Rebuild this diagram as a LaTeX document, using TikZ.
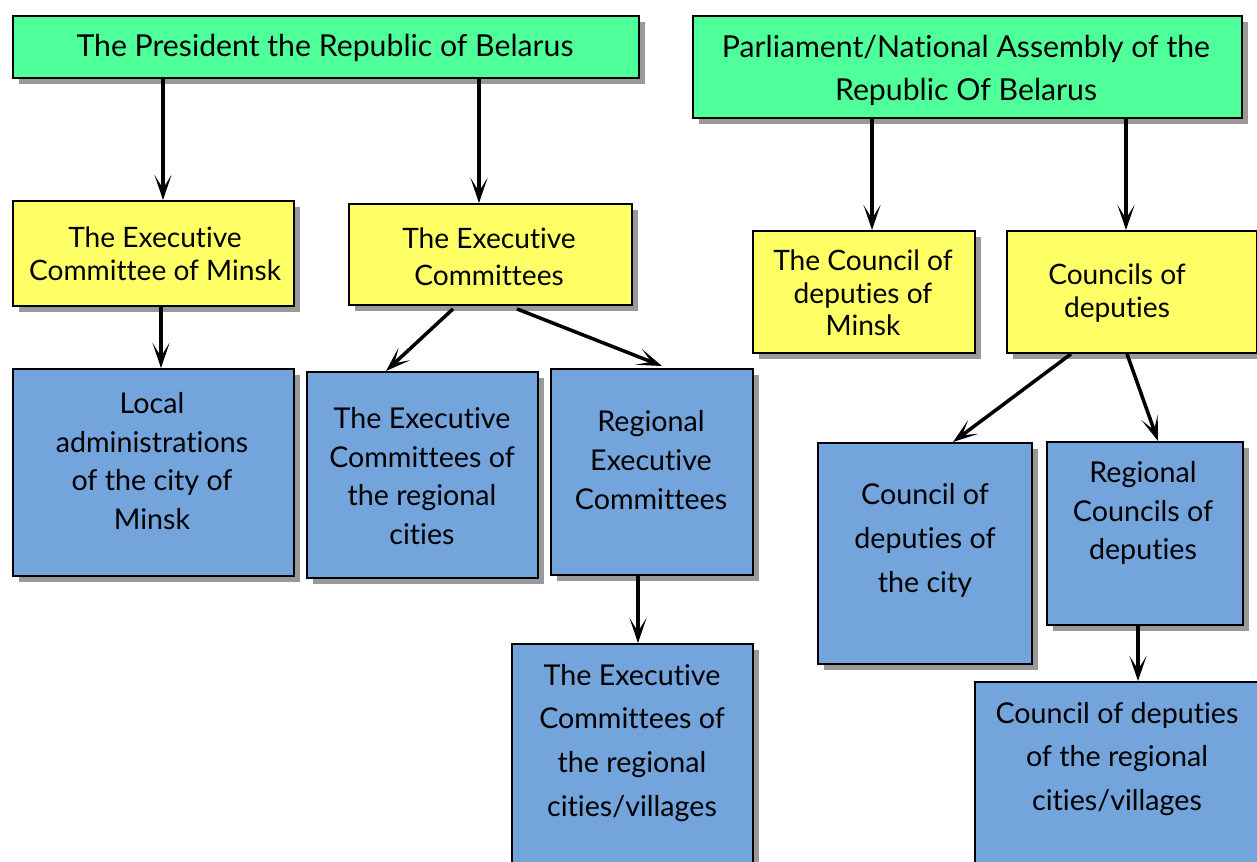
\documentclass[tikz,border=0pt]{standalone}
\usepackage{fontspec}
\setmainfont[Ligatures=NoCommon]{Lato}
\usetikzlibrary{arrows.meta,shadows,calc}
\definecolor{topgreen}{HTML}{4FFF99}
\definecolor{midyellow}{HTML}{FFFF66}
\definecolor{lowblue}{HTML}{73A4DB}
\begin{document}
\begin{tikzpicture}[x=0.2mm,y=-0.2mm,
  boxbase/.style={draw=black, line width=1.1pt, anchor=north west, inner sep=0pt,
    drop shadow={shadow xshift=1.2mm, shadow yshift=-1.2mm, opacity=1, fill=black!40}},
  greenbox/.style={boxbase, fill=topgreen},
  yellowbox/.style={boxbase, fill=midyellow},
  bluebox/.style={boxbase, fill=lowblue},
  toplbl/.style={align=center, inner sep=0pt, font=\fontsize{17.2}{#1}\selectfont},
  toplbl/.default=24.5,
  midlbl/.style={align=center, inner sep=0pt, font=\fontsize{16}{#1}\selectfont},
  midlbl/.default=18.5,
  lbl/.style={align=center, inner sep=0pt, font=\fontsize{16.3}{#1}\selectfont},
  lbl/.default=22,
  link/.style={line width=2pt, -{Stealth[length=5mm, width=3.4mm, inset=2.7mm]}}]
\useasboundingbox (0,0) rectangle (1257,861);
\clip (0,0) rectangle (1257,861);

% rectangles: top row
\node[greenbox, minimum width=626*0.2mm, minimum height=62*0.2mm] (pres) at (12,15) {};
\node[greenbox, minimum width=549*0.2mm, minimum height=102*0.2mm] (parl) at (692,15) {};
% second row
\node[yellowbox, minimum width=281*0.2mm, minimum height=105*0.2mm] (exminsk) at (12,200) {};
\node[yellowbox, minimum width=283*0.2mm, minimum height=101*0.2mm] (excom) at (348,203) {};
\node[yellowbox, minimum width=222*0.2mm, minimum height=122*0.2mm] (coMinsk) at (752,230) {};
\node[yellowbox, minimum width=250*0.2mm, minimum height=122*0.2mm] (codep) at (1006,230) {};
% third row
\node[bluebox, minimum width=281*0.2mm, minimum height=207*0.2mm] (local) at (12,368) {};
\node[bluebox, minimum width=231*0.2mm, minimum height=206*0.2mm] (excity) at (306,371) {};
\node[bluebox, minimum width=202*0.2mm, minimum height=206*0.2mm] (exreg) at (550,368) {};
\node[bluebox, minimum width=214*0.2mm, minimum height=221*0.2mm] (cocity) at (817,442) {};
\node[bluebox, minimum width=196*0.2mm, minimum height=183*0.2mm] (coreg) at (1046,441) {};
% bottom row
\node[bluebox, minimum width=241*0.2mm, minimum height=240*0.2mm] (exvil) at (511,643) {};
\node[bluebox, minimum width=290*0.2mm, minimum height=200*0.2mm] (covil) at (974,681) {};

% labels
\node[toplbl] (tPres) at (325,48) {The President the Republic of Belarus};
\node[toplbl] (tParl) at (966,70) {Parliament/National Assembly of the\\Republic Of Belarus};
\node[midlbl] (tExMinsk) at (155,254) {The Executive\\Committee of Minsk};
\node[midlbl=21] (tExCom) at (489,257) {The Executive\\Committees};
\node[midlbl] (tCoMinsk) at (863,293) {The Council of\\deputies of\\Minsk};
\node[midlbl] (tCoDep) at (1117,293) {Councils of\\deputies};
\node[lbl] (tLocal) at (152,461) {Local\\administrations\\of the city of\\Minsk};
\node[lbl] (tExCity) at (422,476) {The Executive\\Committees of\\the regional\\cities};
\node[lbl] (tExReg) at (651,460) {Regional\\Executive\\Committees};
\node[lbl=25] (tExVil) at (632,743) {The Executive\\Committees of\\the regional\\cities/villages};
\node[lbl=25] (tCoCity) at (925,540) {Council of\\deputies of\\the city};
\node[lbl] (tCoReg) at (1143,513) {Regional\\Councils of\\deputies};
\node[lbl=25] (tCoVil) at (1117,759) {Council of deputies\\of the regional\\cities/villages};

% connectors
\draw[link] (pres.south -| 163,0) -- (exminsk.north -| 163,0);
\draw[link] (pres.south -| 479,0) -- (excom.north -| 479,0);
\draw[link] (exminsk.south -| 161,0) -- (local.north -| 161,0);
\draw[link] ($(excom.south -| 453,0)+(0,3)$) -- (excity.north -| 386,0);
\draw[link] ($(excom.south -| 517,0)+(0,3)$) -- ($(exreg.north -| 662,0)+(0,-2)$);
\draw[link] (exreg.south -| 638,0) -- (exvil.north -| 638,0);
\draw[link] (parl.south -| 872,0) -- (coMinsk.north -| 872,0);
\draw[link] (parl.south -| 1126,0) -- (codep.north -| 1126,0);
\draw[link] (codep.south -| 1071,0) -- (cocity.north -| 953,0);
\draw[link] (codep.south -| 1127,0) -- (coreg.north -| 1158,0);
\draw[link] (coreg.south -| 1138,0) -- (covil.north -| 1138,0);
\end{tikzpicture}
\end{document}
